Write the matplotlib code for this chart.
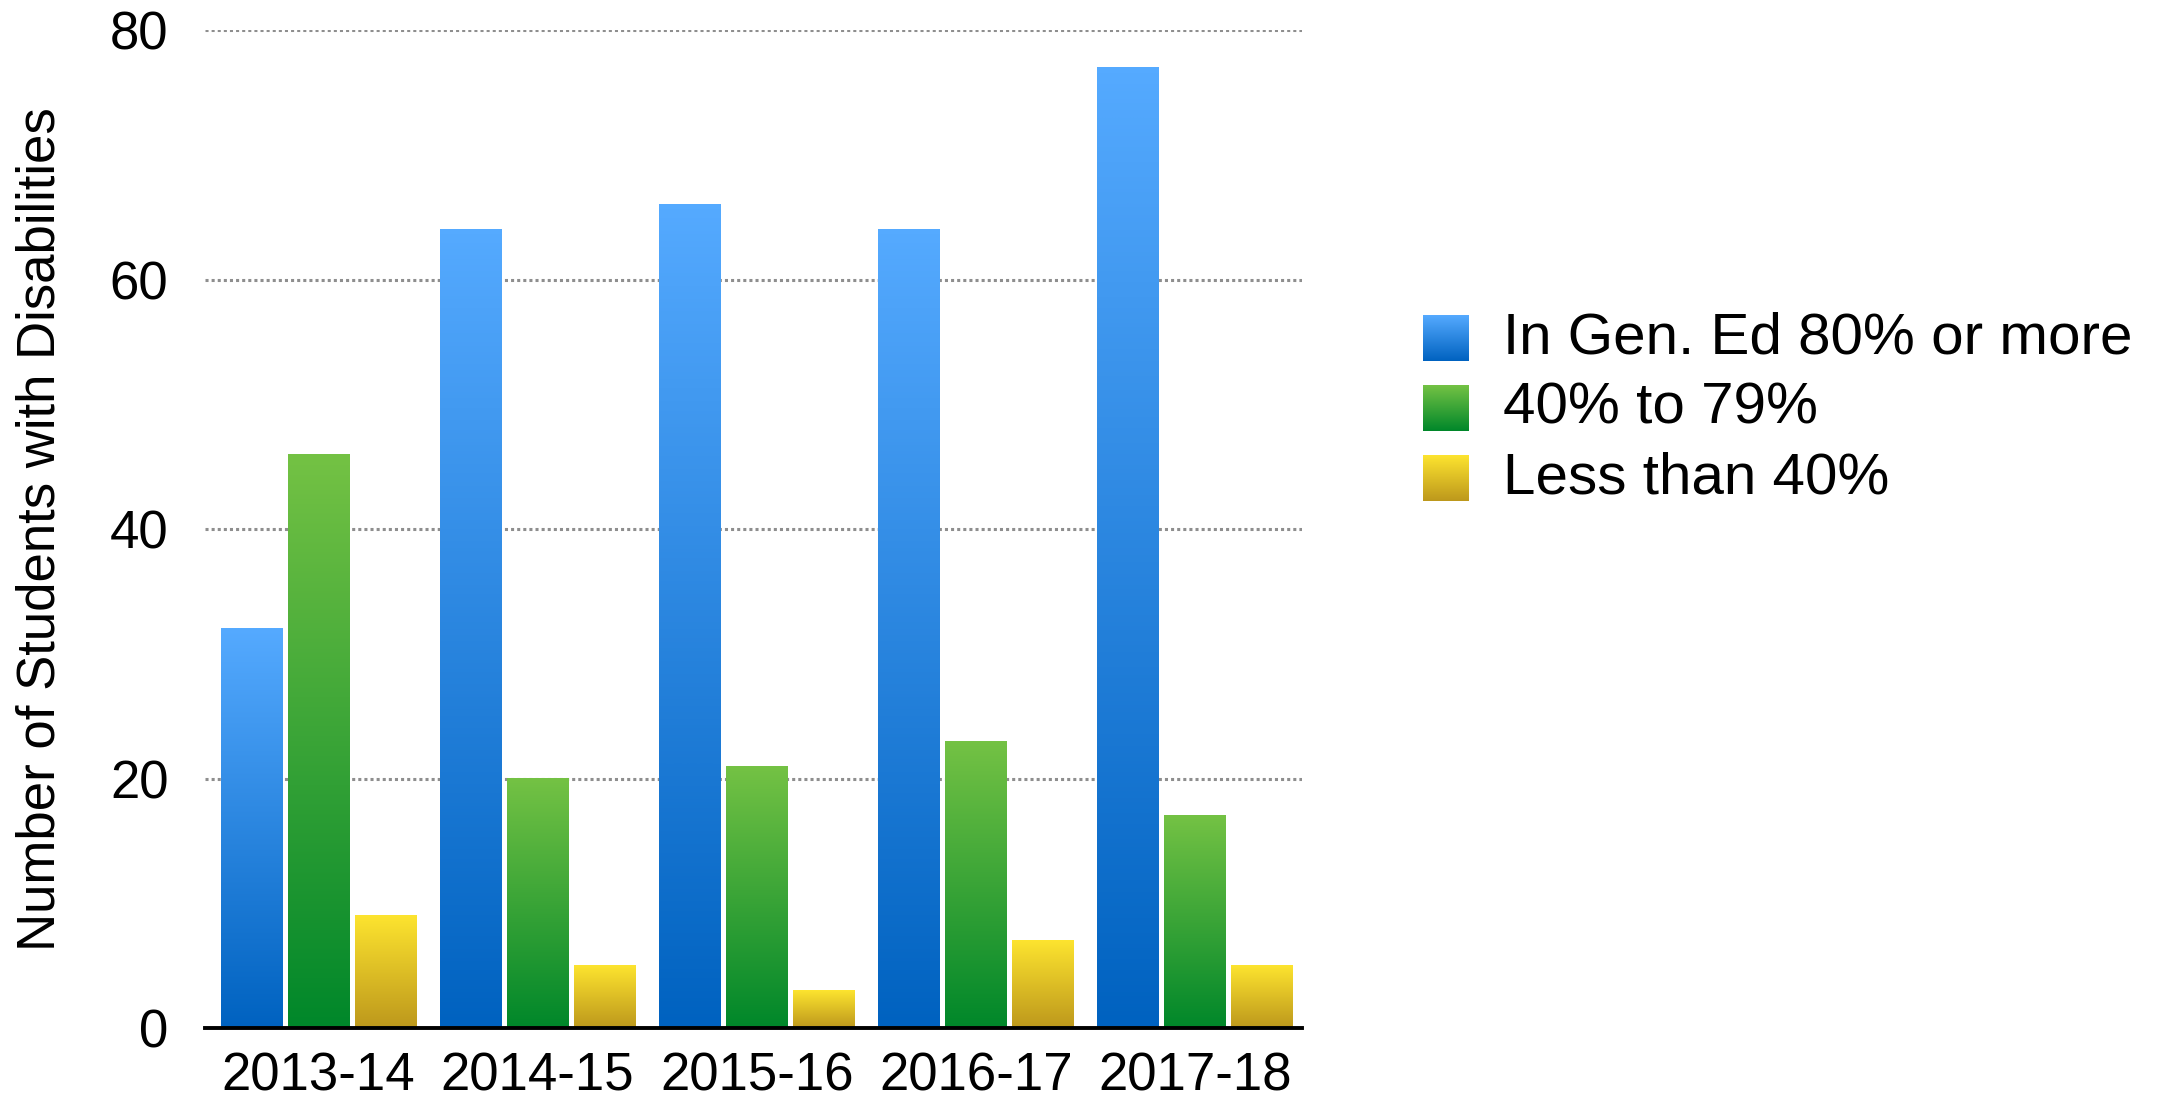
"""
Students with disabilities by time in general education, grouped bars.
"""
import numpy as np
import matplotlib
matplotlib.use("Agg")
import matplotlib.pyplot as plt
from matplotlib.colors import LinearSegmentedColormap

plt.rcParams["font.family"] = ["Liberation Sans", "DejaVu Sans"]

# -- data ----------------------------------------------------------------------
years = ["2013-14", "2014-15", "2015-16", "2016-17", "2017-18"]
series_names = ["In Gen. Ed 80% or more", "40% to 79%", "Less than 40%"]
gen_ed_80 = [32, 64, 66, 64, 77]
gen_ed_40_79 = [46, 20, 21, 23, 17]
gen_ed_lt40 = [9, 5, 3, 7, 5]

# gradient stops (top, bottom) per series
grad_colors = [("#55aaff", "#0062c0"),
               ("#74c244", "#00872a"),
               ("#fde42f", "#bd981c")]

def make_cmap(top, bottom):
    return LinearSegmentedColormap.from_list("g", [bottom, top])

grad = np.linspace(0, 1, 256).reshape(-1, 1)

# -- plot ----------------------------------------------------------------------
fig = plt.figure(figsize=(21.67, 11.09), dpi=100)
ax = fig.add_axes([0.0944, 0.0730, 0.5066, 0.8996])

x = np.arange(len(years))
width = 0.28
step = 0.305
all_series = [gen_ed_80, gen_ed_40_79, gen_ed_lt40]

for i, vals in enumerate(all_series):
    bars = ax.bar(x + (i - 1) * step, vals, width, color=grad_colors[i][1],
                  zorder=2)
    cmap = make_cmap(*grad_colors[i])
    for b in bars:
        x0, y0 = b.get_x(), b.get_y()
        ax.imshow(grad, cmap=cmap, origin="lower", aspect="auto",
                  extent=[x0, x0 + b.get_width(), y0, y0 + b.get_height()],
                  zorder=3, interpolation="bilinear")

ax.set_xlim(-0.52, 4.49)
ax.set_ylim(0, 80)
ax.set_yticks([0, 20, 40, 60, 80])
ax.set_xticks(x)
ax.set_xticklabels(years)
ax.tick_params(axis="both", length=0, labelsize=38)
ax.tick_params(axis="y", pad=26)
ax.tick_params(axis="x", pad=17)

ax.yaxis.grid(True, color="#8e8e8e", linestyle=(0, (1.0, 1.0)),
              linewidth=2.2, zorder=1)
ax.set_axisbelow(True)
for side in ["top", "right", "left"]:
    ax.spines[side].set_visible(False)
ax.spines["bottom"].set_linewidth(2.8)
ax.spines["bottom"].set_color("black")
ax.spines["bottom"].set_zorder(4)

ax.set_ylabel("Number of Students with Disabilities", fontsize=38)
ax.yaxis.set_label_coords(-0.127, 0.5)

# legend with gradient swatches
lax = fig.add_axes([0, 0, 1, 1])
lax.set_xlim(0, 2167)
lax.set_ylim(1109, 0)
lax.axis("off")
sw = 46
for i, name in enumerate(series_names):
    yc = 338 + i * 70
    lax.imshow(grad, cmap=make_cmap(*grad_colors[i]), origin="lower",
               aspect="auto", interpolation="bilinear",
               extent=[1423, 1423 + sw, yc + sw / 2, yc - sw / 2])
    lax.text(1503, yc, name, fontsize=42, va="center", ha="left")
lax.set_xlim(0, 2167)
lax.set_ylim(1109, 0)

fig.savefig("out.png", dpi=100, facecolor="white")
plt.close(fig)
